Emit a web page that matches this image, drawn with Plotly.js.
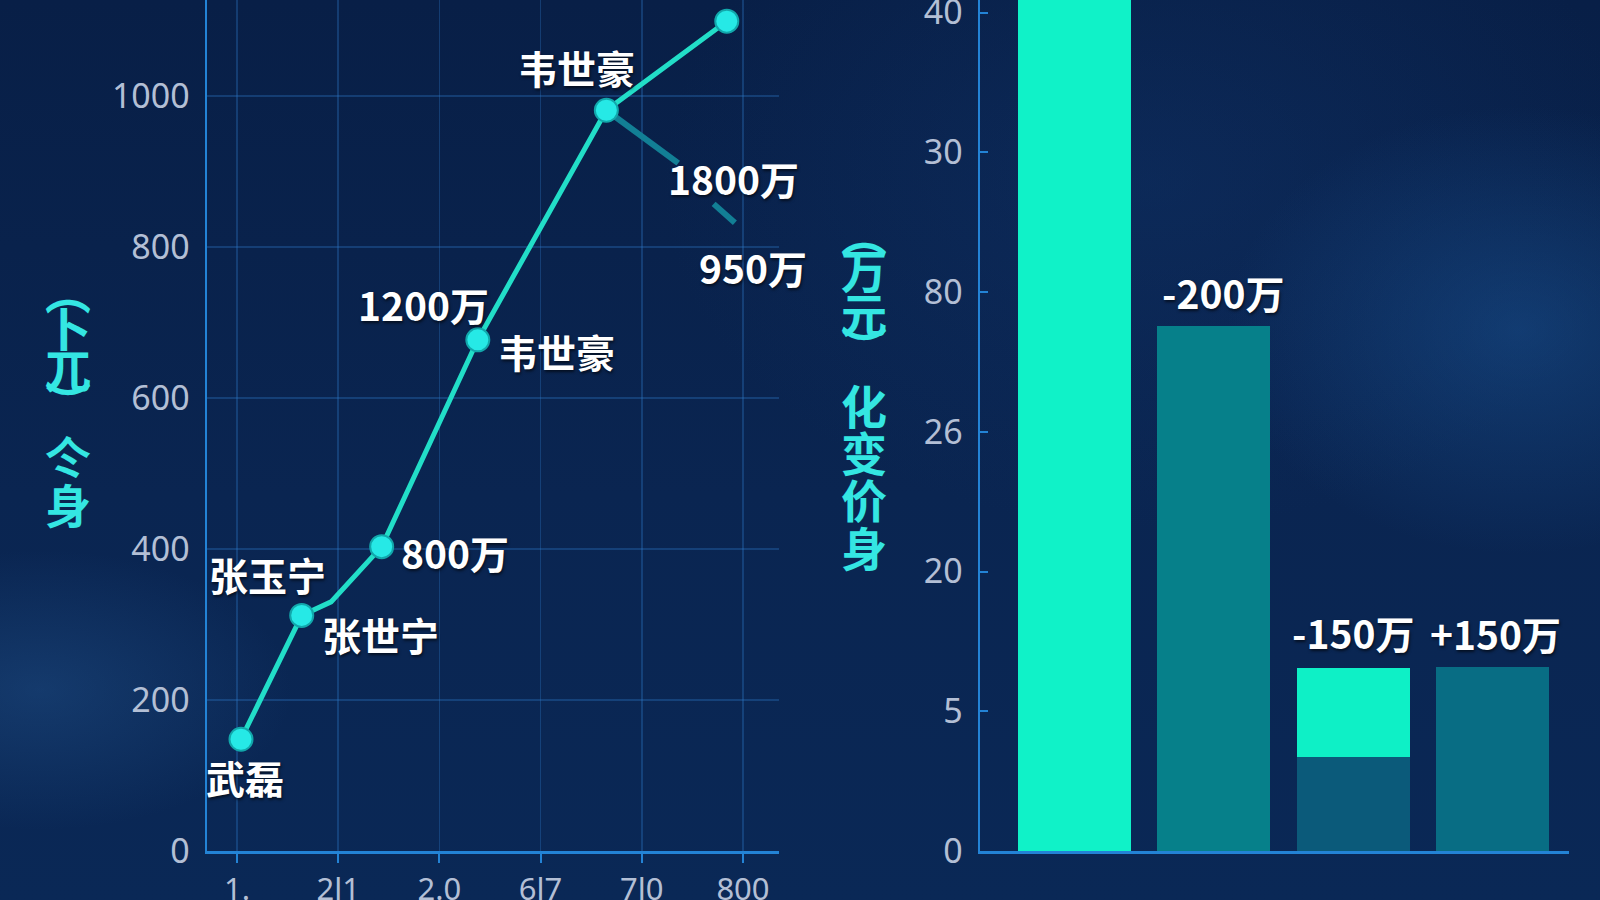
<!DOCTYPE html>
<html>
<head>
<meta charset="utf-8">
<script src="https://cdn.plot.ly/plotly-3.0.1.min.js"></script>
<style>
html,body{margin:0;padding:0;width:1600px;height:900px;overflow:hidden;}
body{
  background:
    radial-gradient(ellipse 420px 320px at 1520px 330px, rgba(30,95,165,0.40), rgba(0,0,0,0) 70%),
    radial-gradient(ellipse 360px 200px at 40px 690px, rgba(40,95,155,0.35), rgba(0,0,0,0) 70%),
    radial-gradient(ellipse 700px 500px at 1150px 180px, rgba(20,60,120,0.30), rgba(0,0,0,0) 70%),
    linear-gradient(180deg, #081f47 0%, #0a2551 55%, #0a2856 100%);
}
#chart{width:1600px;height:900px;}
</style>
</head>
<body>
<div id="chart"></div>
<script>
// ---- data ----
const xTickVals   = [0, 1, 2, 3, 4, 5];
const xTickLabels = ["1.", "2l1", "2.0", "6l7", "7l0", "800"];
const lineX = [0.04, 0.64, 0.93, 1.43, 2.38, 3.65, 4.84];
const lineY = [148, 312, 330, 403, 677, 981, 1099];
const lineMarked = [true, true, false, true, true, true, true];
const branchX = [3.65, 4.36, null, 4.71, 4.92];
const branchY = [981, 911, null, 857, 832];
const leftYTicks = [0, 200, 400, 600, 800, 1000];

const barCats = [0, 1, 2, 3];
const barBase = [7, 3.76, 0.67, 1.32];
const barTop  = [0, 0, 0.64, 0];
const rightTickVals = [0, 1, 2, 3, 4, 5, 6];
const rightTickText = ["0", "5", "20", "26", "80", "30", "40"];

const pointLabels = [
  {i:0, text:"武磊",  dx:4,   dy:38},
  {i:1, text:"张玉宁", dx:-34, dy:-41},
  {i:1, text:"张世宁", dx:79,  dy:19},
  {i:3, text:"800万", dx:73,  dy:5},
  {i:4, text:"1200万", dx:-54, dy:-36},
  {i:4, text:"韦世豪", dx:79,  dy:11},
  {i:5, text:"韦世豪", dx:-30, dy:-43},
  {i:5, text:"1800万", dx:127, dy:68},
  {i:5, text:"950万", dx:147, dy:157}
];
const barLabels = [
  {i:1, text:"-200万", dx:9, dy:-34},
  {i:2, text:"-150万", dx:0, dy:-36},
  {i:3, text:"+150万", dx:3, dy:-34}
];
const leftTitle  = ["︵","卜","兀","︶","仒","身"];
const rightTitle = ["︵","万","元","︶","化","变","价","身"];

// ---- layout helpers (pixel centres of the stacked title glyphs) ----
const leftTitleX = 68,  leftTitleY  = [289, 326, 367, 400, 455, 503];
const rightTitleX = 864, rightTitleY = [232, 268, 312, 345, 404, 451, 498, 546];

// ---- styling ----
const axisBlue = "#2383d6";
const tickFont = {family:"Noto Sans, DejaVu Sans, sans-serif", size:34, color:"#b3bfd5"};
const xTickFont = {family:"Noto Sans, DejaVu Sans, sans-serif", size:31, color:"#b3bfd5"};
const labelFont = {family:"Noto Sans CJK SC, sans-serif", size:39, color:"#ffffff", weight:700, shadow:"1px 2px 3px rgba(0,0,0,0.6)"};
const titleFont = {family:"Noto Sans CJK SC, sans-serif", size:46, color:"#34e6e2", weight:700};

const traces = [
  {x: branchX, y: branchY, xaxis:"x", yaxis:"y", mode:"lines", connectgaps:false,
   line:{color:"#127f95", width:6}, hoverinfo:"skip", showlegend:false},
  {x: lineX, y: lineY, xaxis:"x", yaxis:"y", mode:"lines+markers",
   line:{color:"#22dec8", width:5},
   marker:{size:lineMarked.map(m => m ? 23 : 0), opacity:1, color:"#26e9e6",
           line:{color:"#12a7ab", width:lineMarked.map(m => m ? 2 : 0)}},
   showlegend:false},
  {x: barCats, y: barBase, xaxis:"x2", yaxis:"y2", type:"bar", width:0.81,
   marker:{color:["#10f2c8", "#06808a", "#0b5a7a", "#086d84"], line:{width:0}},
   showlegend:false},
  {x: barCats, y: barTop, xaxis:"x2", yaxis:"y2", type:"bar", width:0.81,
   marker:{color:"#0ef0c6", line:{width:0}}, showlegend:false}
];

const annotations = [];
pointLabels.forEach(p => annotations.push({
  x: lineX[p.i], y: lineY[p.i], xref:"x", yref:"y", text:p.text, showarrow:false,
  xshift:p.dx, yshift:-p.dy, font:labelFont, xanchor:"center", yanchor:"middle"
}));
barLabels.forEach(p => annotations.push({
  x: barCats[p.i], y: barBase[p.i] + barTop[p.i], xref:"x2", yref:"y2", text:p.text, showarrow:false,
  xshift:p.dx, yshift:-p.dy, font:labelFont, xanchor:"center", yanchor:"middle"
}));
function vTitle(chars, xPx, yPx){
  chars.forEach((c, k) => {
    annotations.push({x:xPx/1600, y:1 - yPx[k]/900, xref:"paper", yref:"paper", text:c,
      showarrow:false, font:titleFont, xanchor:"center", yanchor:"middle"});
  });
}
vTitle(leftTitle, leftTitleX, leftTitleY);
vTitle(rightTitle, rightTitleX, rightTitleY);

const layout = {
  width:1600, height:900,
  margin:{l:0, r:0, t:0, b:0},
  paper_bgcolor:"rgba(0,0,0,0)", plot_bgcolor:"rgba(0,0,0,0)",
  barmode:"stack",
  showlegend:false,
  xaxis:{domain:[207/1600, 779/1600], range:[-0.296, 5.356], tickvals:xTickVals, ticktext:xTickLabels,
    showgrid:true, gridcolor:"rgba(45,120,200,0.33)", gridwidth:1.5, zeroline:false,
    showline:true, linecolor:axisBlue, linewidth:2.5, ticks:"outside", ticklen:9, tickwidth:2, tickcolor:axisBlue,
    tickfont:xTickFont, ticklabelstandoff:0, anchor:"y", fixedrange:true},
  yaxis:{domain:[49/900, 1], range:[0, 1127], tickvals:leftYTicks,
    showgrid:true, gridcolor:"rgba(45,120,200,0.33)", gridwidth:1.5, zeroline:false,
    showline:true, linecolor:axisBlue, linewidth:2.5, ticks:"", tickfont:tickFont, ticklabelstandoff:8,
    anchor:"x", fixedrange:true},
  xaxis2:{domain:[980/1600, 1569/1600], range:[-0.677, 3.545], showticklabels:false, showgrid:false,
    zeroline:false, showline:true, linecolor:axisBlue, linewidth:2.5, ticks:"", anchor:"y2", fixedrange:true},
  yaxis2:{domain:[49/900, 1], range:[0, 6.09], tickvals:rightTickVals, ticktext:rightTickText,
    showgrid:false, zeroline:false, showline:true, linecolor:axisBlue, linewidth:2.5,
    ticks:"inside", ticklen:8, tickwidth:2, tickcolor:axisBlue, tickfont:tickFont, ticklabelstandoff:8,
    ticklabeloverflow:"allow", anchor:"x2", fixedrange:true},
  annotations: annotations
};

Plotly.newPlot("chart", traces, layout, {displayModeBar:false, staticPlot:true});
</script>
</body>
</html>
